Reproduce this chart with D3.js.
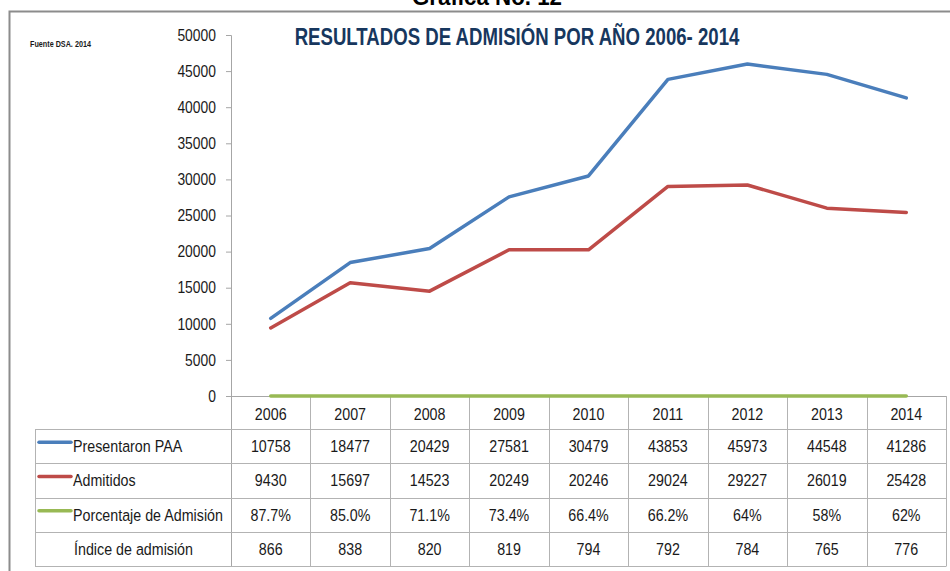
<!DOCTYPE html>
<html>
<head>
<meta charset="utf-8">
<script src="https://cdn.jsdelivr.net/npm/d3@7"></script>
<style>
  body { margin: 0; background: #fff; }
  svg { display: block; }
  text { font-family: "Liberation Sans", Arial, sans-serif; }
</style>
</head>
<body>
<div id="chart"></div>
<script>
// data
const years = ["2006", "2007", "2008", "2009", "2010", "2011", "2012", "2013", "2014"];
const presentaron = [10758, 18477, 20429, 27581, 30479, 43853, 45973, 44548, 41286];
const admitidos = [9430, 15697, 14523, 20249, 20246, 29024, 29227, 26019, 25428];
const porcentaje = [0.877, 0.850, 0.711, 0.734, 0.664, 0.662, 0.64, 0.58, 0.62];
const porcentajeLabels = ["87.7%", "85.0%", "71.1%", "73.4%", "66.4%", "66.2%", "64%", "58%", "62%"];
const indice = [866, 838, 820, 819, 794, 792, 784, 765, 776];
const yTicks = [0, 5000, 10000, 15000, 20000, 25000, 30000, 35000, 40000, 45000, 50000];

let width = 950;
let height = 571;
let squeeze = 0.84; // narrow the Arial-like font toward Calibri widths

let svg = d3.select("#chart").append("svg")
  .attr("width", width)
  .attr("height", height);

// text helper: places a horizontally condensed text
let label = function (parent, px, py, str, size, opts) {
  opts = opts || {};
  return parent.append("text")
    .attr("transform", "translate(" + px + "," + py + ") scale(" + (opts.sx || squeeze) + ",1)")
    .attr("text-anchor", opts.anchor || "start")
    .style("font-size", size + "px")
    .style("font-weight", opts.bold ? "bold" : "normal")
    .style("fill", opts.fill || "#1a1a1a")
    .text(str);
};

// frame (the sheet title is cut at the top edge, as in the source)
label(svg, 487, 5, "Grafica No. 12", 24, { anchor: "middle", bold: true, fill: "#000", sx: 0.93 });

svg.append("path")
  .attr("d", "M9.5," + height + "V11.5H" + width)
  .attr("fill", "none")
  .attr("stroke", "#8c8c8c")
  .attr("stroke-width", 2);

label(svg, 30, 47, "Fuente DSA. 2014", 8.5, { bold: true, sx: 0.85 });

label(svg, 517, 45, "RESULTADOS DE ADMISIÓN POR AÑO 2006- 2014", 24.5, { anchor: "middle", bold: true, fill: "#17375e", sx: 0.76 });

// scales
let x = d3.scaleBand().domain(years).range([231, 946]);
let y = d3.scaleLinear().domain([0, 50000]).range([396, 35]);

// y axis
let yAxis = svg.append("g")
  .attr("transform", "translate(231,0)")
  .call(d3.axisLeft(y).tickValues(yTicks).tickSize(5).tickPadding(13).tickFormat(d3.format("d")));
yAxis.select(".domain").attr("stroke", "#a6a6a6").attr("d", "M-5,35.5H0.5V" + 566);
yAxis.selectAll(".tick line").attr("stroke", "#a6a6a6");
yAxis.selectAll(".tick text")
  .attr("transform", "scale(" + squeeze + ",1)")
  .style("font-size", "16.5px")
  .style("fill", "#1a1a1a")
  .style("font-family", "'Liberation Sans', Arial, sans-serif");

// table
let rowH = 34.3;
let rows = [
  { label: "Presentaron PAA", color: "#4a7ebb", cells: presentaron.map(String) },
  { label: "Admitidos", color: "#be4b48", cells: admitidos.map(String) },
  { label: "Porcentaje de Admisión", color: "#98b954", cells: porcentajeLabels },
  { label: "Índice de admisión", color: null, cells: indice.map(String) }
];
let top0 = 429;
let bottom = Math.round(top0 + rows.length * rowH) + 0.5;
let tbl = svg.append("g");

// horizontal lines
tbl.selectAll("line.h")
  .data(d3.range(rows.length + 1))
  .enter().append("line")
  .attr("x1", 35).attr("x2", 946)
  .attr("y1", d => Math.round(top0 + d * rowH) + 0.5)
  .attr("y2", d => Math.round(top0 + d * rowH) + 0.5)
  .attr("stroke", "#b3b3b3");

// vertical lines (between year columns + right edge)
let edges = years.slice(1).map(d => x(d)).concat([x.range()[1]]);
tbl.selectAll("line.v")
  .data(edges)
  .enter().append("line")
  .attr("x1", d => Math.round(d) + 0.5)
  .attr("x2", d => Math.round(d) + 0.5)
  .attr("y1", 396)
  .attr("y2", bottom)
  .attr("stroke", "#b3b3b3");

tbl.append("line")
  .attr("x1", 35.5).attr("x2", 35.5)
  .attr("y1", top0).attr("y2", bottom)
  .attr("stroke", "#b3b3b3");

// year header
years.forEach(function (d) {
  label(tbl, x(d) + x.bandwidth() / 2, 420, d, 17, { anchor: "middle" });
});

rows.forEach(function (r, ri) {
  let cy = top0 + ri * rowH + rowH / 2;
  if (r.color) {
    tbl.append("line")
      .attr("x1", 39).attr("x2", 71)
      .attr("y1", cy - 4).attr("y2", cy - 4)
      .attr("stroke", r.color).attr("stroke-width", 3.5)
      .attr("stroke-linecap", "round");
  }
  label(tbl, r.color ? 73 : 74, cy + 6, r.label, 17);
  r.cells.forEach(function (c, i) {
    label(tbl, x(years[i]) + x.bandwidth() / 2, cy + 6, c, 17, { anchor: "middle" });
  });
});

// x axis line
svg.append("line")
  .attr("x1", 226).attr("x2", 946)
  .attr("y1", 396.5).attr("y2", 396.5)
  .attr("stroke", "#a6a6a6");

// series lines
let line = d3.line()
  .x((d, i) => x(years[i]) + x.bandwidth() / 2)
  .y(d => y(d));

let series = [
  { values: porcentaje, color: "#98b954" },
  { values: admitidos, color: "#be4b48" },
  { values: presentaron, color: "#4a7ebb" }
];

svg.selectAll("path.series")
  .data(series)
  .enter().append("path")
  .attr("class", "series")
  .attr("d", d => line(d.values))
  .attr("fill", "none")
  .attr("stroke", d => d.color)
  .attr("stroke-width", 3.5)
  .attr("stroke-linejoin", "round")
  .attr("stroke-linecap", "round");
</script>
</body>
</html>
